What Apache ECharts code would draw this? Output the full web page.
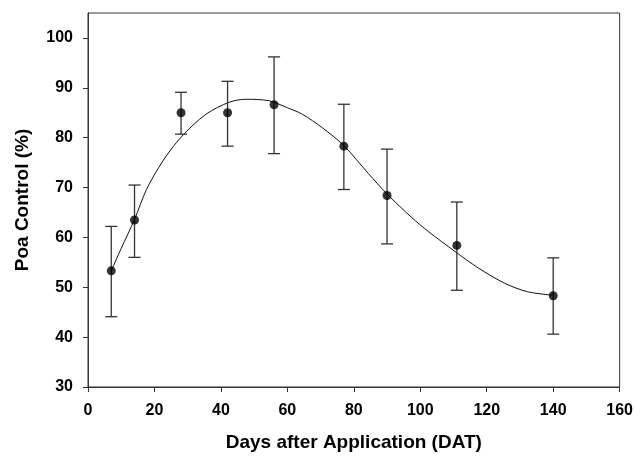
<!DOCTYPE html>
<html>
<head>
<meta charset="utf-8">
<script src="https://cdn.jsdelivr.net/npm/echarts@6/dist/echarts.min.js"></script>
<style>
  html, body { margin: 0; padding: 0; background: #fff; }
  #main { width: 636px; height: 458px; }
</style>
</head>
<body>
<div id="main"></div>
<script>
// measured points (mean and error bar ends)
var days = [7, 14, 28, 42, 56, 77, 90, 111, 140];
var control = [53.3, 63.5, 85.0, 85.0, 86.6, 78.3, 68.4, 58.4, 48.3];
var errLow = [44.1, 56.0, 80.7, 78.3, 76.8, 69.6, 58.7, 49.4, 40.6];
var errHigh = [62.2, 70.5, 89.1, 91.3, 96.2, 86.7, 77.7, 67.1, 55.9];

// fitted curve
var fitX = [7, 10, 14, 17.6, 22.5, 28, 35.5, 42.5, 47.5, 54.5, 60, 64.5, 70.5, 77, 84.4, 90, 97.4, 102.4, 110.4, 117.4, 125.4, 132.3, 140];
var fitY = [53.3, 57.8, 63.6, 69.6, 75.3, 80.1, 84.7, 87.1, 87.7, 87.4, 86.0, 84.7, 82.0, 78.4, 72.8, 68.7, 64.0, 61.2, 57.2, 53.9, 50.8, 49.1, 48.4];

var xTicks = [0, 20, 40, 60, 80, 100, 120, 140, 160];
var yTicks = [30, 40, 50, 60, 70, 80, 90, 100];

var pts = days.map(function (d, i) { return [d, control[i]]; });
var bars = days.map(function (d, i) { return [d, errLow[i], errHigh[i]]; });
var fit = fitX.map(function (x, i) { return [x, fitY[i]]; });

var chart = echarts.init(document.getElementById('main'));

var axisFont = { fontFamily: 'Liberation Sans', fontWeight: 'bold', fontSize: 16, color: '#000' };

chart.setOption({
    animation: false,
    backgroundColor: '#fff',
    grid: {
        left: 88, right: 14, top: 13, bottom: 71,
        show: true, borderColor: '#333', borderWidth: 1
    },
    xAxis: {
        type: 'value',
        min: 0, max: 160, interval: 20,
        name: 'Days after Application (DAT)',
        nameLocation: 'middle',
        nameGap: 46,
        nameTextStyle: { fontFamily: 'Liberation Sans', fontWeight: 'bold', fontSize: 19, color: '#000' },
        axisLine: { onZero: false, lineStyle: { color: '#333', width: 1 } },
        axisTick: { inside: false, length: 5, lineStyle: { color: '#333' }, customValues: xTicks },
        axisLabel: Object.assign({ margin: 16, customValues: xTicks }, axisFont),
        splitLine: { show: false }
    },
    yAxis: {
        type: 'value',
        min: 30, max: 105, interval: 10,
        name: 'Poa Control (%)',
        nameLocation: 'middle',
        nameGap: 56,
        nameTextStyle: { fontFamily: 'Liberation Sans', fontWeight: 'bold', fontSize: 19, color: '#000' },
        axisLine: { onZero: false, lineStyle: { color: '#333', width: 1 } },
        axisTick: { inside: false, length: 5, lineStyle: { color: '#333' }, customValues: yTicks },
        axisLabel: Object.assign({ margin: 15, customValues: yTicks }, axisFont),
        splitLine: { show: false }
    },
    series: [
        {
            name: 'fit',
            type: 'line',
            data: fit,
            smooth: 0.3,
            showSymbol: false,
            lineStyle: { color: '#111', width: 1 },
            z: 2
        },
        {
            name: 'error',
            type: 'custom',
            data: bars,
            renderItem: function (params, api) {
                var top = api.coord([api.value(0), api.value(2)]);
                var bot = api.coord([api.value(0), api.value(1)]);
                var half = 6;
                var style = { stroke: '#333', lineWidth: 1.3 };
                return {
                    type: 'group',
                    children: [
                        { type: 'line', shape: { x1: top[0], y1: top[1], x2: bot[0], y2: bot[1] }, style: style },
                        { type: 'line', shape: { x1: top[0] - half, y1: top[1], x2: top[0] + half, y2: top[1] }, style: style },
                        { type: 'line', shape: { x1: bot[0] - half, y1: bot[1], x2: bot[0] + half, y2: bot[1] }, style: style }
                    ]
                };
            },
            z: 3
        },
        {
            name: 'mean',
            type: 'scatter',
            data: pts,
            symbol: 'circle',
            symbolSize: 9,
            itemStyle: { color: '#000' },
            z: 4
        }
    ]
});
</script>
</body>
</html>
